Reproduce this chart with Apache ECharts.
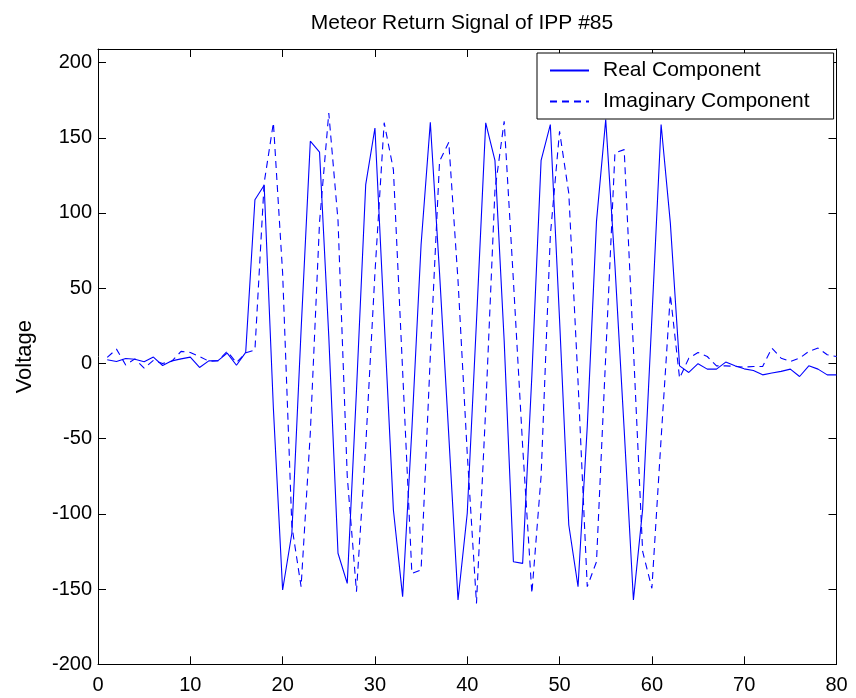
<!DOCTYPE html>
<html>
<head>
<meta charset="utf-8">
<title>Meteor Return Signal of IPP #85</title>
<script src="https://cdn.jsdelivr.net/npm/echarts@6/dist/echarts.min.js"></script>
<style>
  html, body { margin: 0; padding: 0; background: #ffffff; }
  #chart { width: 856px; height: 698px; }
</style>
</head>
<body>
<div id="chart"></div>
<script>
// Complex baseband samples of one inter-pulse period (sample index 1..80)
const realComponent = [
  2.4, 1.3, 3.3, 2.8, 1.1, 4.2, -1.4, 1.7, 3.0, 4.2,
  -2.7, 1.7, 1.9, 6.8, -1.2, 7.3, 108.8, 118.4, -30, -150.6,
  -112.9, 22, 147.7, 140.4, 18, -126.2, -146.2, -18, 118.8, 156.5,
  29, -97.4, -155, -44, 79, 160.3, 60, -48, -157.3, -99.6,
  28, 159.9, 135, 15, -131.8, -132.9, -8, 135, 158.8, 29,
  -107.4, -148.4, -42, 94.4, 162.1, 65, -44, -157.3, -97, 30,
  158.8, 93.4, -1.6, -6, -0.2, -3.8, -3.8, 0.9, -1.6, -3.6,
  -4.7, -7.6, -6.4, -5.3, -3.8, -8.7, -1.6, -3.8, -7.6, -7.6
];
const imaginaryComponent = [
  4, 9.5, -1, 3, -3.2, 2, 0, 1.5, 8, 7.3,
  4.6, 1.5, 1.7, 8, 0.5, 7, 9, 120, 160, 60,
  -108, -148.4, -46, 94, 166.5, 95, -75, -151.7, -55, 60,
  160, 128.8, -5, -139.6, -137.3, 5, 134.4, 147, 55, -60,
  -159.5, -30, 115, 161, 55, -55, -152.9, -75, 85, 154.3,
  113, -12, -148.4, -131.8, 5, 140, 142.1, 10, -125, -149.5,
  -50, 45.7, -9.8, 3.5, 7.3, 4.6, -1.6, -1.6, -2, -2.5,
  -2, -2, 10.2, 3.5, 1.3, 3.5, 8, 10.2, 5.8, 4.6
];
const seriesNames = ['Real Component', 'Imaginary Component'];
const xTicks = { min: 0, max: 80, step: 10 };
const yTicks = { min: -200, max: 209, step: 50 };

const toPairs = vals => vals.map((v, i) => [i + 1, v]);

const FONT = "'Liberation Sans', Arial, Helvetica, sans-serif";
const BLUE = '#0000ff';

const chart = echarts.init(document.getElementById('chart'), null, { renderer: 'canvas' });

// Boxed frame axis: black line with inward ticks, labels off unless overridden
function frameAxis(extra) {
  return Object.assign({
    type: 'value',
    axisLine: { show: true, onZero: false, lineStyle: { color: '#000', width: 1 } },
    axisTick: { show: true, inside: true, length: 8, lineStyle: { color: '#000', width: 1 } },
    splitLine: { show: false },
    axisLabel: { show: false }
  }, extra);
}

chart.setOption({
  animation: false,
  backgroundColor: '#ffffff',
  title: {
    text: 'Meteor Return Signal of IPP #85',
    left: 457,
    top: 8,
    textAlign: 'center',
    textStyle: { fontFamily: FONT, fontSize: 21, fontWeight: 'normal', color: '#000' }
  },
  grid: { left: 98, top: 49, width: 738.5, height: 615.3, containLabel: false },
  legend: {
    data: seriesNames,
    orient: 'vertical',
    left: 537,
    top: 53,
    itemWidth: 39,
    itemHeight: 20,
    itemGap: 10,
    padding: [7, 24, 7, 12],
    backgroundColor: '#ffffff',
    borderColor: '#000',
    borderWidth: 1,
    borderRadius: 0,
    itemStyle: { color: 'rgba(0,0,0,0)', borderWidth: 0, opacity: 0 },
    textStyle: { fontFamily: FONT, fontSize: 21, color: '#000', padding: [0, 0, 0, 9] }
  },
  xAxis: [
    frameAxis({
      position: 'bottom',
      min: xTicks.min, max: xTicks.max, interval: xTicks.step,
      axisLabel: { show: true, margin: 11, color: '#000', fontFamily: FONT, fontSize: 20 }
    }),
    frameAxis({ position: 'top', min: xTicks.min, max: xTicks.max, interval: xTicks.step })
  ],
  yAxis: [
    frameAxis({
      position: 'left',
      min: yTicks.min, max: yTicks.max, interval: yTicks.step,
      name: 'Voltage',
      nameLocation: 'middle',
      nameGap: 62,
      nameTextStyle: { fontFamily: FONT, fontSize: 22, color: '#000' },
      axisLabel: {
        show: true, margin: 6, color: '#000', fontFamily: FONT, fontSize: 20,
        showMaxLabel: false
      }
    }),
    frameAxis({ position: 'right', min: yTicks.min, max: yTicks.max, interval: yTicks.step })
  ],
  series: [
    {
      name: seriesNames[0],
      type: 'line',
      data: toPairs(realComponent),
      showSymbol: false,
      symbol: 'none',
      lineStyle: { color: BLUE, width: 1.1, type: 'solid' },
      itemStyle: { color: BLUE }
    },
    {
      name: seriesNames[1],
      type: 'line',
      data: toPairs(imaginaryComponent),
      showSymbol: false,
      symbol: 'none',
      lineStyle: { color: BLUE, width: 1.1, type: [7, 5] },
      itemStyle: { color: BLUE }
    }
  ]
});
</script>
</body>
</html>
